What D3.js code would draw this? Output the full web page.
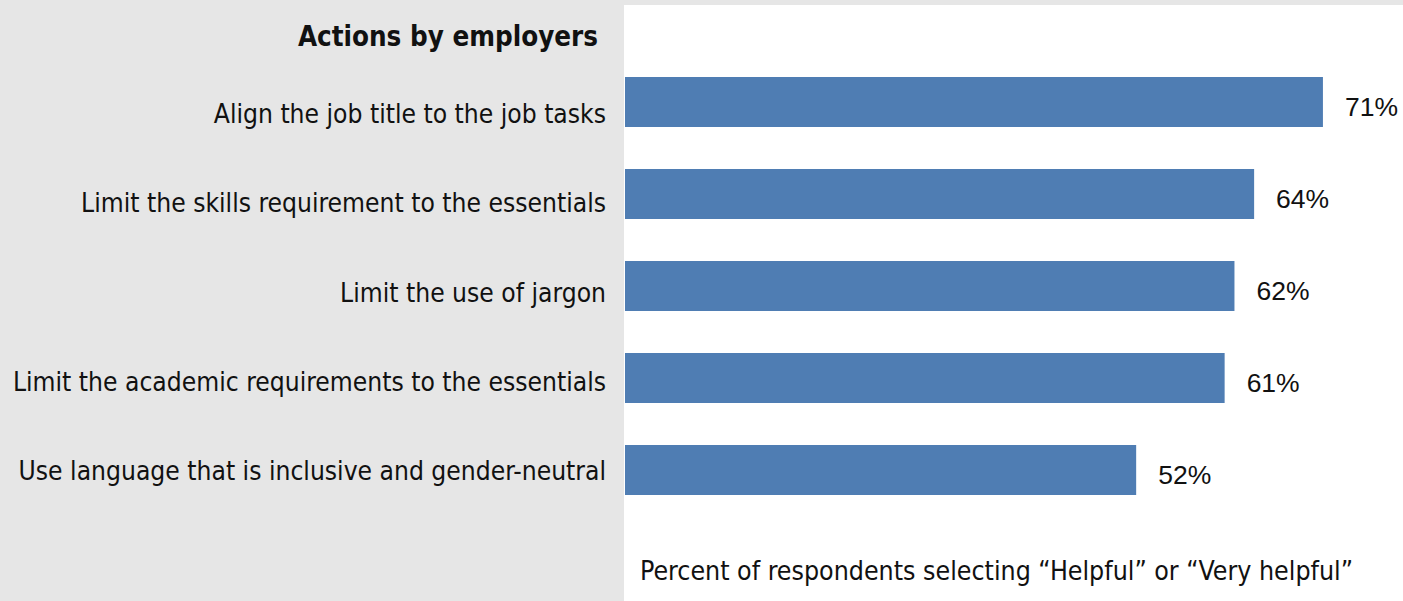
<!DOCTYPE html>
<html>
<head>
<meta charset="utf-8">
<script src="https://cdn.jsdelivr.net/npm/d3@7"></script>
<style>
  body { margin: 0; background: #e6e6e6; }
  svg { display: block; }
</style>
</head>
<body>
<div id="chart"></div>
<script>
// chart data
var categories = [
  "Align the job title to the job tasks",
  "Limit the skills requirement to the essentials",
  "Limit the use of jargon",
  "Limit the academic requirements to the essentials",
  "Use language that is inclusive and gender-neutral"
];
var values = [71, 64, 62, 61, 52];
var title = "Actions by employers";
var axisNote = "Percent of respondents selecting \u201cHelpful\u201d or \u201cVery helpful\u201d";

var width = 1403, height = 601;
var panelLeft = 624;

var svg = d3.select("#chart")
  .append("svg")
    .attr("width", width)
    .attr("height", height);

// backgrounds
svg.append("rect")
    .attr("width", width)
    .attr("height", height)
    .attr("fill", "#e6e6e6");
svg.append("rect")
    .attr("x", panelLeft)
    .attr("y", 5)
    .attr("width", width - panelLeft)
    .attr("height", height - 5)
    .attr("fill", "#ffffff");

// scales
var x = d3.scaleLinear()
  .domain([0, 100])
  .range([625, 625 + 983]);

var y = d3.scaleBand()
  .domain(categories)
  .range([77, 495])
  .paddingInner(0.4565)
  .paddingOuter(0);

// the labels in the left panel sit on a slightly tighter spacing than the bars
var labelY = d3.scalePoint()
  .domain(categories)
  .range([123, 480]);

var labelFont = "'DejaVu Sans Condensed', 'Liberation Sans Narrow', sans-serif";

// title
svg.append("text")
    .attr("x", 598)
    .attr("y", 46)
    .attr("text-anchor", "end")
    .style("font-family", labelFont)
    .style("font-weight", "bold")
    .style("font-size", "27.5px")
    .style("fill", "#111")
    .text(title);

// bars
svg.selectAll(".bar")
  .data(values)
  .enter().append("rect")
    .attr("class", "bar")
    .attr("x", x(0))
    .attr("y", (d, i) => y(categories[i]))
    .attr("width", d => x(d) - x(0))
    .attr("height", y.bandwidth())
    .attr("fill", "#4f7db3");

// category labels
svg.selectAll(".cat")
  .data(categories)
  .enter().append("text")
    .attr("class", "cat")
    .attr("x", 606)
    .attr("y", d => labelY(d))
    .attr("text-anchor", "end")
    .style("font-family", labelFont)
    .style("font-size", "26.2px")
    .style("fill", "#111")
    .text(d => d);

// value labels
svg.selectAll(".value")
  .data(values)
  .enter().append("text")
    .attr("class", "value")
    .attr("x", d => x(d) + 22)
    .attr("y", (d, i) => y(categories[i]) + y.bandwidth() / 2 + 14)
    .style("font-family", "'Liberation Sans', Arial, sans-serif")
    .style("font-size", "26.5px")
    .style("fill", "#111")
    .text(d => d + "%");

// axis note
svg.append("text")
    .attr("x", 640)
    .attr("y", 580)
    .style("font-family", labelFont)
    .style("font-size", "26.5px")
    .style("fill", "#111")
    .text(axisNote);
</script>
</body>
</html>
